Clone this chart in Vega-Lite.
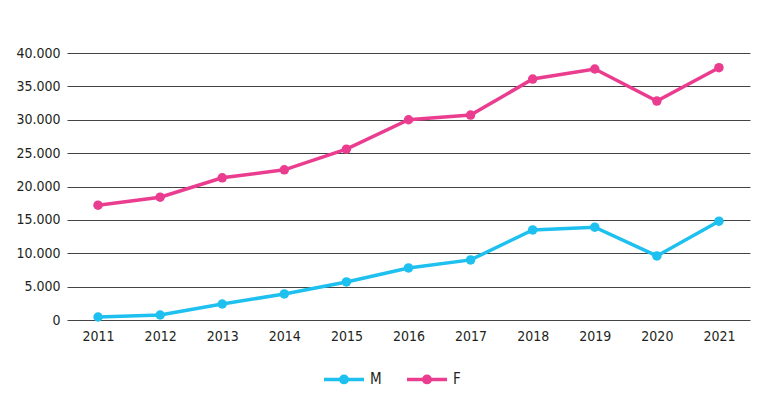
{
  "$schema": "https://vega.github.io/schema/vega-lite/v6.json",
  "width": 683,
  "height": 267,
  "autosize": "none",
  "padding": {"left": 67, "top": 53, "right": 20, "bottom": 92},
  "background": "white",
  "config": {
    "view": {"stroke": null},
    "font": "DejaVu Sans Condensed, sans-serif",
    "axis": {"labelFont": "DejaVu Sans Condensed, sans-serif", "labelFontSize": 14, "labelColor": "#231f20"},
    "legend": {"labelFont": "DejaVu Sans Condensed, sans-serif", "labelFontSize": 15, "labelColor": "#231f20"}
  },
  "data": {
    "values": [
      {"year": "2011", "sex": "M", "value": 450},
      {"year": "2012", "sex": "M", "value": 750},
      {"year": "2013", "sex": "M", "value": 2400},
      {"year": "2014", "sex": "M", "value": 3900},
      {"year": "2015", "sex": "M", "value": 5700},
      {"year": "2016", "sex": "M", "value": 7800},
      {"year": "2017", "sex": "M", "value": 9000},
      {"year": "2018", "sex": "M", "value": 13500},
      {"year": "2019", "sex": "M", "value": 13900},
      {"year": "2020", "sex": "M", "value": 9600},
      {"year": "2021", "sex": "M", "value": 14800},
      {"year": "2011", "sex": "F", "value": 17200},
      {"year": "2012", "sex": "F", "value": 18400},
      {"year": "2013", "sex": "F", "value": 21300},
      {"year": "2014", "sex": "F", "value": 22500},
      {"year": "2015", "sex": "F", "value": 25600},
      {"year": "2016", "sex": "F", "value": 30000},
      {"year": "2017", "sex": "F", "value": 30700},
      {"year": "2018", "sex": "F", "value": 36100},
      {"year": "2019", "sex": "F", "value": 37600},
      {"year": "2020", "sex": "F", "value": 32800},
      {"year": "2021", "sex": "F", "value": 37800}
    ]
  },
  "mark": {"type": "line", "strokeWidth": 3.5, "point": {"filled": true, "size": 90}},
  "encoding": {
    "x": {
      "field": "year", "type": "ordinal", "title": null,
      "scale": {"type": "point", "padding": 0.5},
      "axis": {"labelAngle": 0, "ticks": false, "domain": false, "labelPadding": 9, "grid": false}
    },
    "y": {
      "field": "value", "type": "quantitative", "title": null,
      "scale": {"domain": [0, 40000]},
      "axis": {
        "values": [0, 5000, 10000, 15000, 20000, 25000, 30000, 35000, 40000],
        "labelExpr": "replace(format(datum.value, ','), ',', '.')",
        "ticks": false, "domain": false, "labelPadding": 7,
        "grid": true, "gridColor": "#444444", "gridWidth": 1, "gridOpacity": 1
      }
    },
    "color": {
      "field": "sex", "type": "nominal",
      "scale": {"domain": ["M", "F"], "range": ["#1ec0ef", "#ea3d8f"]},
      "legend": {
        "title": null, "orient": "none", "direction": "horizontal",
        "legendX": 255, "legendY": 304,
        "symbolType": "M-1,0L1,0M0.16,0A0.16,0.16 0 1 1 -0.16,0A0.16,0.16 0 1 1 0.16,0",
        "symbolSize": 1600, "symbolStrokeWidth": 3.5, "columnPadding": 18, "labelOffset": 4
      }
    }
  }
}
